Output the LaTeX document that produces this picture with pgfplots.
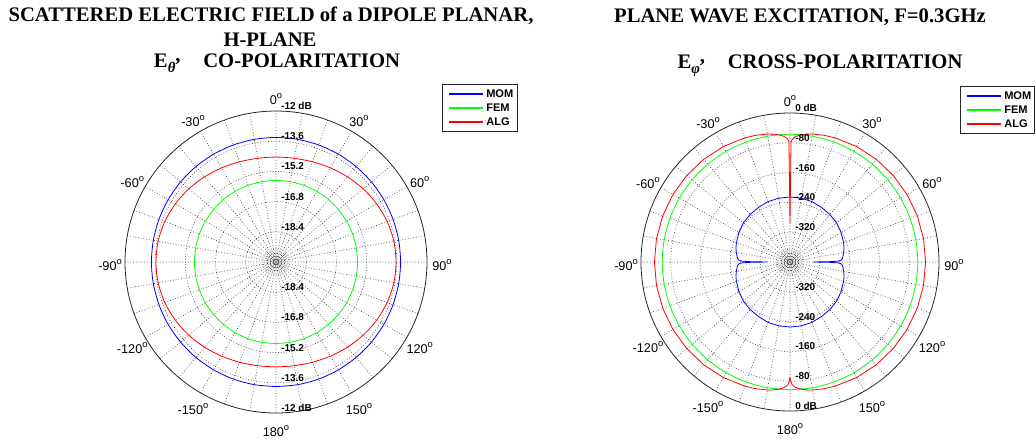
\documentclass[border=0pt]{standalone}
\usepackage{fontspec}
\setmainfont{Liberation Serif}
\setsansfont{Liberation Sans}
\usepackage{pgfplots}
\pgfplotsset{compat=1.18}
\usepgfplotslibrary{polar}
\usepackage{pgfplotstable}

% ---------- left plot: E_theta (dB) ----------
\pgfplotstableread{
t d
-180 -13.40
-170 -13.40
-160 -13.40
-150 -13.40
-140 -13.40
-130 -13.40
-120 -13.40
-110 -13.40
-100 -13.40
-90 -13.40
-80 -13.40
-70 -13.40
-60 -13.40
-50 -13.40
-40 -13.40
-30 -13.40
-20 -13.40
-10 -13.40
0 -13.40
10 -13.40
20 -13.40
30 -13.40
40 -13.40
50 -13.40
60 -13.40
70 -13.40
80 -13.40
90 -13.40
100 -13.40
110 -13.40
120 -13.40
130 -13.40
140 -13.40
150 -13.40
160 -13.40
170 -13.40
180 -13.40
}\momA
\pgfplotstableread{
t d
-180 -15.68
-170 -15.68
-160 -15.68
-150 -15.68
-140 -15.68
-130 -15.68
-120 -15.68
-110 -15.68
-100 -15.68
-90 -15.68
-80 -15.68
-70 -15.68
-60 -15.68
-50 -15.68
-40 -15.68
-30 -15.68
-20 -15.68
-10 -15.68
0 -15.68
10 -15.68
20 -15.68
30 -15.68
40 -15.68
50 -15.68
60 -15.68
70 -15.68
80 -15.68
90 -15.68
100 -15.68
110 -15.68
120 -15.68
130 -15.68
140 -15.68
150 -15.68
160 -15.68
170 -15.68
180 -15.68
}\femA
\pgfplotstableread{
t d
-180 -14.44
-170 -14.42
-160 -14.35
-150 -14.24
-140 -14.11
-130 -13.97
-120 -13.84
-110 -13.73
-100 -13.66
-90 -13.64
-80 -13.66
-70 -13.73
-60 -13.84
-50 -13.97
-40 -14.11
-30 -14.24
-20 -14.35
-10 -14.42
0 -14.44
10 -14.42
20 -14.35
30 -14.24
40 -14.11
50 -13.97
60 -13.84
70 -13.73
80 -13.66
90 -13.64
100 -13.66
110 -13.73
120 -13.84
130 -13.97
140 -14.11
150 -14.24
160 -14.35
170 -14.42
180 -14.44
}\algA

% ---------- right plot: E_phi (dB) ----------
\pgfplotstableread{
t d
-180 -225.5
-170 -226.0
-160 -227.5
-150 -230.9
-140 -233.5
-130 -236.5
-120 -241.6
-110 -247.0
-105 -249.7
-100 -253.7
-95 -257.7
-93 -260.4
-92 -263.1
-91 -271.1
-90.5 -292.6
-90 -338.3
-89.5 -292.6
-89 -271.1
-88 -263.1
-87 -260.4
-85 -257.7
-80 -253.7
-75 -249.7
-70 -247.0
-60 -241.6
-50 -236.5
-40 -233.5
-30 -230.9
-20 -227.5
-10 -226.0
0 -225.5
10 -226.0
20 -227.5
30 -230.9
40 -233.5
50 -236.5
60 -241.6
70 -247.0
75 -249.7
80 -253.7
85 -257.7
87 -260.4
88 -263.1
89 -271.1
89.5 -292.6
90 -338.3
90.5 -292.6
91 -271.1
92 -263.1
93 -260.4
95 -257.7
100 -253.7
105 -249.7
110 -247.0
120 -241.6
130 -236.5
140 -233.5
150 -230.9
160 -227.5
170 -226.0
180 -225.5
}\momB
\pgfplotstableread{
t d
-180 -57
-170 -57
-160 -57
-150 -57
-140 -57
-130 -57
-120 -57
-110 -57
-100 -57
-90 -57
-80 -57
-70 -57
-60 -57
-50 -57
-40 -57
-30 -57
-20 -57
-10 -57
0 -57
10 -57
20 -57
30 -57
40 -57
50 -57
60 -57
70 -57
80 -57
90 -57
100 -57
110 -57
120 -57
130 -57
140 -57
150 -57
160 -57
170 -57
180 -57
}\femB
\pgfplotstableread{
t d
-180 -91.0
-179.5 -77.2
-179 -71.2
-178 -65.1
-177 -61.6
-175 -57.2
-172.5 -53.7
-170 -51.2
-165 -47.7
-160 -45.3
-150 -42.0
-140 -39.8
-130 -38.3
-120 -37.25
-110 -36.5
-100 -36.1
-90 -36.0
-80 -36.1
-70 -36.5
-60 -37.25
-50 -38.3
-40 -39.8
-30 -42.0
-20 -45.3
-15 -47.7
-10 -51.2
-7.5 -53.7
-5 -57.2
-3 -61.6
-2 -65.1
-1 -71.2
-0.5 -77.2
0 -296.0
0.5 -77.2
1 -71.2
2 -65.1
3 -61.6
5 -57.2
7.5 -53.7
10 -51.2
15 -47.7
20 -45.3
30 -42.0
40 -39.8
50 -38.3
60 -37.25
70 -36.5
80 -36.1
90 -36.0
100 -36.1
110 -36.5
120 -37.25
130 -38.3
140 -39.8
150 -42.0
160 -45.3
165 -47.7
170 -51.2
172.5 -53.7
175 -57.2
177 -61.6
178 -65.1
179 -71.2
179.5 -77.2
180 -91.0
}\algB

\pgfplotsset{
  mypolar/.style={
    scale only axis, anchor=origin, clip=false,
    xmin=0, xmax=360,
    xtick={0,10,...,350}, xticklabels={}, yticklabels={},
    grid=major,
    major grid style={black!75, line width=0.5pt, dash pattern=on 0.55pt off 1.5pt},
    major tick length=0pt,
    axis line style={black!85, line width=0.6pt},
    y axis line style={draw=none},
    every axis plot/.append style={mark=none, line width=0.6pt},
  },
}

\begin{document}
\begin{tikzpicture}
\useasboundingbox (0,0) rectangle (777pt,-330pt);

% ---------- left polar ----------
\begin{polaraxis}[mypolar,
  at={(207pt,-196.5pt)}, width=226.5pt, height=226.5pt,
  ymin=0, ymax=8, ytick={1.6,3.2,4.8,6.4}]
\addplot[blue, smooth] table[x expr=90-\thisrow{t}, y expr=\thisrow{d}+20] {\momA};
\addplot[green, smooth] table[x expr=90-\thisrow{t}, y expr=\thisrow{d}+20] {\femA};
\addplot[red, smooth] table[x expr=90-\thisrow{t}, y expr=\thisrow{d}+20] {\algA};
\end{polaraxis}

% ---------- right polar ----------
\begin{polaraxis}[mypolar,
  at={(592.5pt,-196.5pt)}, width=223.5pt, height=223.5pt,
  ymin=0, ymax=400, ytick={80,160,240,320}]
\addplot[blue] table[x expr=90-\thisrow{t}, y expr=\thisrow{d}+400] {\momB};
\addplot[green, smooth] table[x expr=90-\thisrow{t}, y expr=\thisrow{d}+400] {\femB};
\addplot[red] table[x expr=90-\thisrow{t}, y expr=\thisrow{d}+400] {\algB};
\end{polaraxis}

\begin{scope}[x=0.75pt, y=-0.75pt]
  % centre rings
  \foreach \cx in {276,790} {
    \draw[black!80, line width=0.5pt] (\cx,262) circle (1.8pt);
    \foreach \rr in {3.5pt,5.5pt,7.5pt,9.8pt}
      \draw[black!65, line width=0.5pt, dash pattern=on 0.5pt off 1.2pt] (\cx,262) circle (\rr);
  }
  % legends
  \foreach \lx/\ly/\rx in {442/84/517, 960/86/1034} {
    \draw[black!85, line width=0.6pt, fill=white] (\lx,\ly) rectangle (\rx,\ly+47);
    \draw[blue, line width=0.8pt] (\lx+7,\ly+10) -- (\lx+41,\ly+10);
    \draw[green, line width=0.8pt] (\lx+7,\ly+24) -- (\lx+41,\ly+24);
    \draw[red, line width=0.8pt] (\lx+7,\ly+38) -- (\lx+41,\ly+38);
    \node[font=\sffamily\bfseries\fontsize{8.3}{9}\selectfont, inner sep=0pt, anchor=west] at (\lx+44,\ly+10) {MOM};
    \node[font=\sffamily\bfseries\fontsize{8.3}{9}\selectfont, inner sep=0pt, anchor=west] at (\lx+44,\ly+24) {FEM};
    \node[font=\sffamily\bfseries\fontsize{8.3}{9}\selectfont, inner sep=0pt, anchor=west] at (\lx+44,\ly+38) {ALG};
  }
  % angle labels
  \foreach \t in {0,30,60,90,120,150,180,-150,-120,-90,-60,-30} {
    \node[font=\sffamily\fontsize{9.5}{10}\selectfont, inner sep=0pt] at ([shift={(\t-90:166)}]276,265) {\t\raisebox{0.85ex}{\fontsize{7}{7}\selectfont o}};
    \node[font=\sffamily\fontsize{9.5}{10}\selectfont, inner sep=0pt] at ([shift={(\t-90:164)}]790,265) {\t\raisebox{0.85ex}{\fontsize{7}{7}\selectfont o}};
  }
  % dB labels, left
  \foreach \r/\l in {151/{-12 dB},120.8/{-13.6},90.6/{-15.2},60.4/{-16.8},30.2/{-18.4}} {
    \node[font=\sffamily\bfseries\fontsize{7.5}{8}\selectfont, inner sep=0pt, anchor=west] at (281,262-\r-5) {\l};
    \node[font=\sffamily\bfseries\fontsize{7.5}{8}\selectfont, inner sep=0pt, anchor=west] at (281,262+\r-5) {\l};
  }
  % dB labels, right
  \foreach \r/\l in {149/{0 dB},119.2/{-80},89.4/{-160},59.6/{-240},29.8/{-320}} {
    \node[font=\sffamily\bfseries\fontsize{7.5}{8}\selectfont, inner sep=0pt, anchor=west] at (795,262-\r-5) {\l};
    \node[font=\sffamily\bfseries\fontsize{7.5}{8}\selectfont, inner sep=0pt, anchor=west] at (795,262+\r-5) {\l};
  }
  % titles
  \begin{scope}[every node/.style={font=\bfseries\fontsize{15.5}{18}\selectfont, inner sep=0pt}]
    \node at (271,16) {SCATTERED ELECTRIC FIELD of a DIPOLE PLANAR,};
    \node at (270,40) {H-PLANE};
    \node at (277,63) {E\raisebox{-0.55ex}{\fontsize{11}{11}\selectfont\textit{θ}}\raisebox{0.6ex}{,}\hspace{1.1em}CO-POLARITATION};
    \node at (800,17) {PLANE WAVE EXCITATION, F=0.3GHz};
    \node at (820,66) {E\raisebox{-0.55ex}{\fontsize{11}{11}\selectfont\textit{φ}}\raisebox{0.6ex}{,}\hspace{1.1em}CROSS-POLARITATION};
  \end{scope}
\end{scope}
\end{tikzpicture}
\end{document}
